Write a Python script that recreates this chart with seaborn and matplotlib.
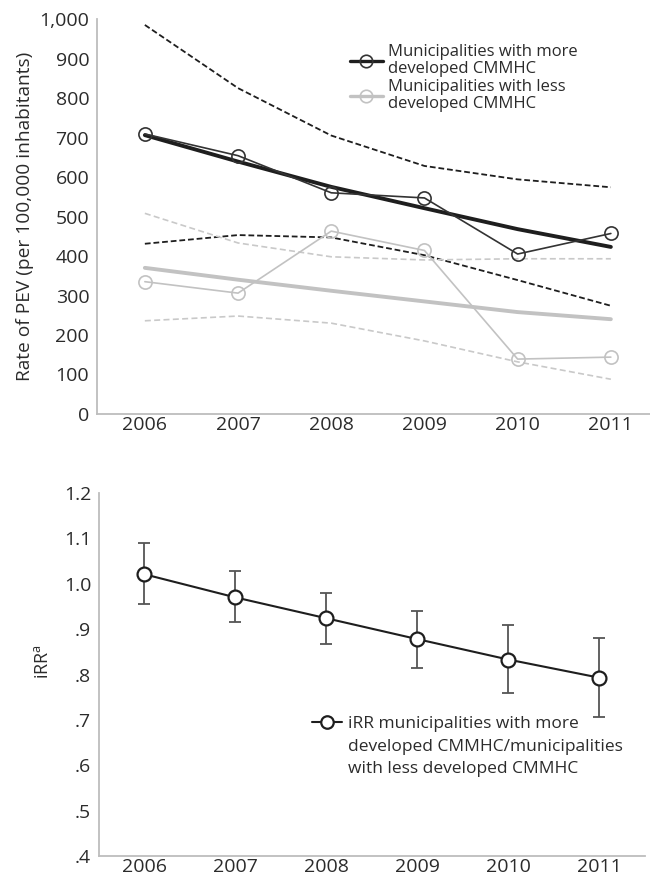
import numpy as np
import pandas as pd
import matplotlib
matplotlib.use("Agg")
import matplotlib.pyplot as plt
import seaborn as sns
from matplotlib.lines import Line2D
from matplotlib.ticker import FixedLocator, FuncFormatter

# ---------------- data ----------------
years = [2006, 2007, 2008, 2009, 2010, 2011]

more_obs = [709, 654, 560, 547, 405, 457]
more_fit = [706, 639, 575, 521, 468, 423]
more_hi = [985, 825, 705, 628, 594, 574]
more_lo = [431, 453, 447, 402, 339, 274]

less_obs = [335, 306, 463, 414, 139, 144]
less_fit = [370, 340, 312, 285, 258, 240]
less_hi = [508, 433, 398, 390, 393, 393]
less_lo = [236, 248, 230, 185, 132, 88]

irr = [1.021, 0.970, 0.924, 0.878, 0.833, 0.793]
irr_lo = [0.955, 0.916, 0.867, 0.815, 0.760, 0.706]
irr_hi = [1.089, 1.028, 0.979, 0.941, 0.909, 0.880]

top_yticks = [0, 100, 200, 300, 400, 500, 600, 700, 800, 900, 1000]
bot_yticks = [0.4, 0.5, 0.6, 0.7, 0.8, 0.9, 1.0, 1.1, 1.2]

label_more = "Municipalities with more\ndeveloped CMMHC"
label_less = "Municipalities with less\ndeveloped CMMHC"
label_irr = ["iRR municipalities with more",
             "developed CMMHC/municipalities",
             "with less developed CMMHC"]
ylabel_top = "Rate of PEV (per 100,000 inhabitants)"
ylabel_bot = "iRR$^{\\mathrm{a}}$"

# ---------------- style ----------------
sns.set_style("white")
FONT = "Open Sans"
plt.rcParams['font.family'] = [FONT, 'DejaVu Sans']
plt.rcParams['mathtext.fontset'] = 'custom'
plt.rcParams['mathtext.rm'] = FONT
TXT = "#2b2b2b"
DARK = "#1e1e1e"
LIGHT = "#c2c2c2"
SPINE = "#bdbdbd"
TICKSIZE = 14

fig = plt.figure(figsize=(6.5, 8.76), dpi=100)

df = pd.DataFrame({
    "year": years, "more_obs": more_obs, "more_fit": more_fit, "more_hi": more_hi,
    "more_lo": more_lo, "less_obs": less_obs, "less_fit": less_fit,
    "less_hi": less_hi, "less_lo": less_lo,
})

# ---------------- top panel ----------------
ax1 = fig.add_axes([0.149, 0.5274, 0.851, 0.4509])

for col in ["more_hi", "more_lo"]:
    sns.lineplot(data=df, x="year", y=col, ax=ax1, color=DARK, lw=1.3,
                 linestyle=(0, (3.2, 1.6)))
for col in ["less_hi", "less_lo"]:
    sns.lineplot(data=df, x="year", y=col, ax=ax1, color="#c9c9c9", lw=1.2,
                 linestyle=(0, (3.6, 2.0)))

sns.lineplot(data=df, x="year", y="less_fit", ax=ax1, color=LIGHT, lw=2.8)
sns.lineplot(data=df, x="year", y="less_obs", ax=ax1, color=LIGHT, lw=1.2,
             marker="o", markersize=9.5, markerfacecolor="none",
             markeredgecolor=LIGHT, markeredgewidth=1.2)
sns.lineplot(data=df, x="year", y="more_fit", ax=ax1, color=DARK, lw=2.8)
sns.lineplot(data=df, x="year", y="more_obs", ax=ax1, color="#333333", lw=1.2,
             marker="o", markersize=9.5, markerfacecolor="none",
             markeredgecolor="#333333", markeredgewidth=1.2)

ax1.set_xlim(2005.485, 2011.42)
ax1.set_ylim(0, 1000)
ax1.set_xticks(years)
ax1.set_xticklabels([str(y) for y in years])
ax1.xaxis.set_minor_locator(FixedLocator([y + 0.5 for y in years[:-1]]))
ax1.set_yticks(top_yticks)
ax1.set_yticklabels([f"{v:,}" for v in top_yticks])
ax1.set_xlabel("")
ax1.set_ylabel(ylabel_top, fontsize=13.8, color=TXT, labelpad=4)

handles_top = [
    Line2D([0], [0], color=DARK, lw=2.4, marker="o", markersize=9,
           markerfacecolor="none", markeredgecolor="#333333", markeredgewidth=1.2),
    Line2D([0], [0], color=LIGHT, lw=2.4, marker="o", markersize=9,
           markerfacecolor="none", markeredgecolor=LIGHT, markeredgewidth=1.2),
]
leg1 = ax1.legend(handles_top, [label_more, label_less], loc="upper left",
                  bbox_to_anchor=(350 / 650, 1 - 44 / 876),
                  bbox_transform=fig.transFigure, frameon=False, fontsize=12,
                  handlelength=1.95, handletextpad=0.3, labelspacing=0.08,
                  borderpad=0, borderaxespad=0)
for t in leg1.get_texts():
    t.set_color(TXT)
    t.set_linespacing(1.12)

# ---------------- bottom panel ----------------
ax2 = fig.add_axes([0.152, 0.0228, 0.84, 0.4144])
dfi = pd.DataFrame({"year": years, "irr": irr, "lo": irr_lo, "hi": irr_hi})

yerr = np.vstack([dfi["irr"] - dfi["lo"], dfi["hi"] - dfi["irr"]])
ax2.errorbar(dfi["year"], dfi["irr"], yerr=yerr, fmt="none", ecolor="#555555",
             elinewidth=1.3, capsize=4.5, capthick=1.3, zorder=2)
sns.lineplot(data=dfi, x="year", y="irr", ax=ax2, color=DARK, lw=1.5,
             marker="o", markersize=10, markerfacecolor="white",
             markeredgecolor=DARK, markeredgewidth=1.6, zorder=3)

ax2.set_xlim(2005.5, 2011.5)
ax2.set_ylim(0.4, 1.2)
ax2.set_xticks(years)
ax2.set_xticklabels([str(y) for y in years])
ax2.xaxis.set_minor_locator(FixedLocator([y + 0.5 for y in years[:-1]]))
ax2.set_yticks(bot_yticks)
ax2.yaxis.set_major_formatter(FuncFormatter(
    lambda v, p: f"{v:.1f}" if v >= 0.999 else f"{v:.1f}"[1:]))
ax2.set_xlabel("")
ax2.set_ylabel(ylabel_bot, fontsize=13, color=TXT)
ax2.yaxis.set_label_coords(-0.085, 0.535)

handle_irr = [Line2D([0], [0], color=DARK, lw=1.5, marker="o", markersize=9,
                     markerfacecolor="white", markeredgecolor=DARK,
                     markeredgewidth=1.6),
              Line2D([], [], alpha=0), Line2D([], [], alpha=0)]
leg2 = ax2.legend(handle_irr, label_irr, loc="upper left",
                  bbox_to_anchor=(312 / 650, 1 - 716 / 876),
                  bbox_transform=fig.transFigure, frameon=False, fontsize=12.5,
                  handlelength=1.7, handletextpad=0.35, labelspacing=0.36,
                  borderpad=0, borderaxespad=0)
for t in leg2.get_texts():
    t.set_color(TXT)

for ax in [ax1, ax2]:
    for s in ["top", "right"]:
        ax.spines[s].set_visible(False)
    for s in ["left", "bottom"]:
        ax.spines[s].set_color(SPINE)
        ax.spines[s].set_linewidth(1.3)
    ax.tick_params(axis="y", which="major", direction="out", length=4,
                   width=1.0, color=SPINE, labelsize=TICKSIZE, labelcolor=TXT, pad=1.5)
    ax.tick_params(axis="x", which="major", length=0, labelsize=TICKSIZE,
                   labelcolor=TXT, pad=1.5)
    ax.tick_params(axis="x", which="minor", direction="in", length=4,
                   width=1.0, color=SPINE)

fig.savefig("out.png", dpi=100)
